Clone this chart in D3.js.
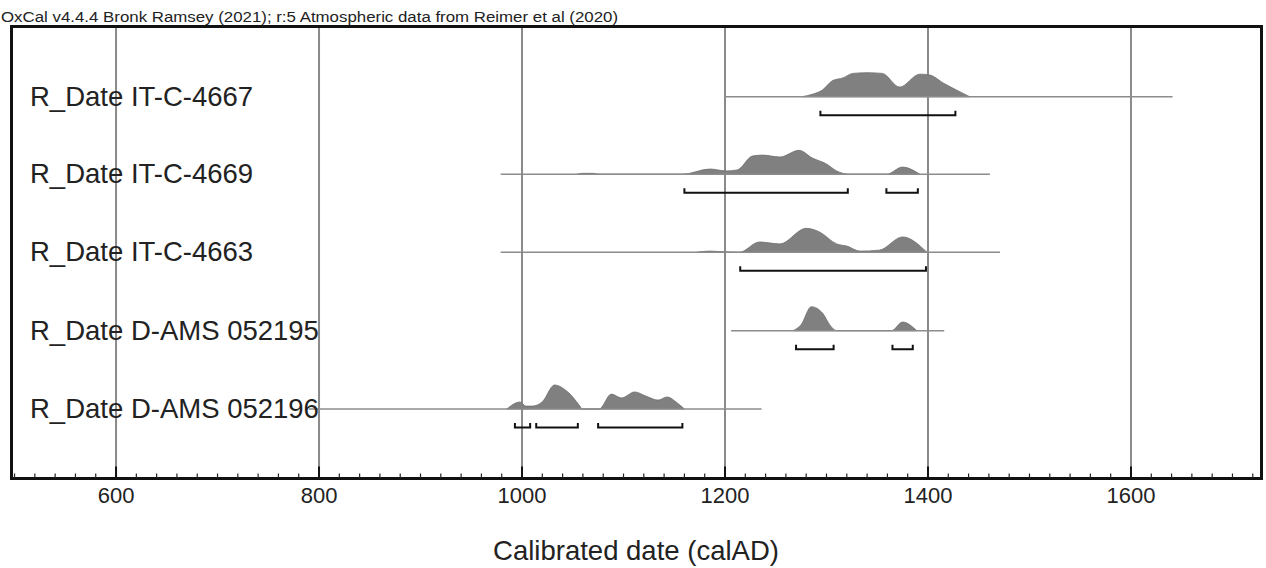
<!DOCTYPE html>
<html>
<head>
<meta charset="utf-8">
<script src="https://cdn.jsdelivr.net/npm/d3@7"></script>
<style>
  body { margin: 0; background: #fff; }
  text { font-family: "Liberation Sans", Arial, sans-serif; }
</style>
</head>
<body>
<div id="chart"></div>
<script>
var svgWidth = 1266;
var svgHeight = 568;

// sample names, top to bottom
var labels = ["R_Date IT-C-4667", "R_Date IT-C-4669", "R_Date IT-C-4663", "R_Date D-AMS 052195", "R_Date D-AMS 052196"];

// calendar range of the thin line under each distribution
var ranges = [[1200, 1641], [979, 1461], [979, 1471], [1206, 1416], [790, 1236]];

// probability (relative, max = 1)
var dist4667 = [[1276, 0], [1286, 0.1], [1296, 0.28], [1306, 0.67], [1316, 0.78], [1326, 0.97], [1340, 1.0], [1355, 0.97], [1372, 0.4], [1392, 0.94], [1402, 0.9], [1415, 0.57], [1428, 0.28], [1441, 0]];
var dist4669 = [[1054, 0], [1060, 0.04], [1070, 0.04], [1076, 0], [1158, 0], [1185, 0.22], [1201, 0.14], [1212, 0.18], [1227, 0.76], [1237, 0.8], [1254, 0.72], [1273, 1.0], [1286, 0.68], [1300, 0.43], [1310, 0.14], [1323, 0], [1359, 0], [1375, 0.3], [1392, 0]];
var dist4663 = [[1172, 0], [1185, 0.05], [1195, 0.03], [1214, 0], [1234, 0.43], [1254, 0.35], [1280, 1.0], [1293, 0.85], [1310, 0.35], [1320, 0.26], [1333, 0.05], [1352, 0.09], [1375, 0.64], [1399, 0]];
var dist052195 = [[1267, 0], [1275, 0.25], [1285, 1.0], [1296, 0.74], [1304, 0.2], [1310, 0], [1364, 0], [1375, 0.36], [1389, 0]];
var dist052196 = [[985, 0], [998, 0.29], [1004, 0.12], [1010, 0.12], [1020, 0.3], [1032, 1.0], [1044, 0.75], [1057, 0.12], [1059, 0], [1076, 0], [1088, 0.62], [1098, 0.46], [1111, 0.71], [1122, 0.54], [1134, 0.37], [1143, 0.5], [1153, 0.25], [1160, 0]];
var dists = [dist4667, dist4669, dist4663, dist052195, dist052196];

// 95.4% ranges (brackets)
var hpd = [
  [[1294, 1427]],
  [[1160, 1321], [1359, 1390]],
  [[1215, 1398]],
  [[1270, 1307], [1365, 1385]],
  [[993, 1008], [1014, 1055], [1075, 1158]]
];

var majorTicks = [600, 800, 1000, 1200, 1400, 1600];
var minorTicks = d3.range(500, 1730, 20);

var frame = { left: 11.5, right: 1261.5, top: 26.5, bottom: 478.5 };
var rowY = [96.7, 174.3, 252.3, 330.7, 409];

var svg = d3.select("#chart")
  .append("svg")
  .attr("width", svgWidth)
  .attr("height", svgHeight);

var x = d3.scaleLinear()
  .domain([497, 1728.6])
  .range([frame.left, frame.right]);

var h = d3.scaleLinear().domain([0, 1]).range([0, 24]);

// title line
svg.append("text")
  .attr("x", 1)
  .attr("y", 22)
  .attr("font-size", 14)
  .attr("textLength", 617)
  .attr("lengthAdjust", "spacingAndGlyphs")
  .attr("fill", "#222")
  .text("OxCal v4.4.4 Bronk Ramsey (2021); r:5 Atmospheric data from Reimer et al (2020)");

// gridlines
svg.append("g")
  .selectAll("line")
  .data(majorTicks)
  .enter()
  .append("line")
  .attr("x1", d => x(d))
  .attr("x2", d => x(d))
  .attr("y1", frame.top)
  .attr("y2", frame.bottom)
  .attr("stroke", "#8a8a8a")
  .attr("stroke-width", 2);

// rows
var area = d3.area()
  .x(d => x(d[0]))
  .y0(0)
  .y1(d => -h(d[1]))
  .curve(d3.curveMonotoneX);

var rows = svg.append("g")
  .selectAll("g")
  .data(labels)
  .enter()
  .append("g")
  .attr("transform", (d, i) => `translate(0, ${rowY[i]})`);

rows.append("path")
  .attr("d", (d, i) => area(dists[i]))
  .attr("fill", "#808080")
  .attr("stroke", "#6e6e6e")
  .attr("stroke-width", 0.8);

rows.append("line")
  .attr("x1", (d, i) => x(ranges[i][0]))
  .attr("x2", (d, i) => x(ranges[i][1]))
  .attr("y1", 0)
  .attr("y2", 0)
  .attr("stroke", "#8c8c8c")
  .attr("stroke-width", 1.5);

rows.append("text")
  .attr("x", 30)
  .attr("y", 9)
  .attr("font-size", 27.5)
  .attr("fill", "#222")
  .text(d => d);

rows.each(function(d, i) {
  d3.select(this).selectAll("path.hpd")
    .data(hpd[i])
    .enter()
    .append("path")
    .attr("class", "hpd")
    .attr("d", r => `M${x(r[0])},14 V18.5 H${x(r[1])} V14`)
    .attr("fill", "none")
    .attr("stroke", "#111")
    .attr("stroke-width", 2);
});

// frame
svg.append("rect")
  .attr("x", frame.left)
  .attr("y", frame.top)
  .attr("width", frame.right - frame.left)
  .attr("height", frame.bottom - frame.top)
  .attr("fill", "none")
  .attr("stroke", "#111")
  .attr("stroke-width", 3);

// axis
var axisG = svg.append("g")
  .attr("transform", `translate(0, ${frame.bottom})`);

axisG.selectAll("line.minor")
  .data(minorTicks)
  .enter()
  .append("line")
  .attr("class", "minor")
  .attr("x1", d => x(d))
  .attr("x2", d => x(d))
  .attr("y1", 0)
  .attr("y2", -5)
  .attr("stroke", "#222")
  .attr("stroke-width", 1.2);

axisG.selectAll("line.major")
  .data(majorTicks)
  .enter()
  .append("line")
  .attr("class", "major")
  .attr("x1", d => x(d))
  .attr("x2", d => x(d))
  .attr("y1", 0)
  .attr("y2", -12)
  .attr("stroke", "#111")
  .attr("stroke-width", 2);

axisG.selectAll("text")
  .data(majorTicks)
  .enter()
  .append("text")
  .attr("x", d => x(d))
  .attr("y", 24)
  .attr("text-anchor", "middle")
  .attr("font-size", 22)
  .attr("fill", "#222")
  .text(d => d);

svg.append("text")
  .attr("x", 636)
  .attr("y", 560)
  .attr("text-anchor", "middle")
  .attr("font-size", 27.5)
  .attr("fill", "#222")
  .text("Calibrated date (calAD)");
</script>
</body>
</html>
